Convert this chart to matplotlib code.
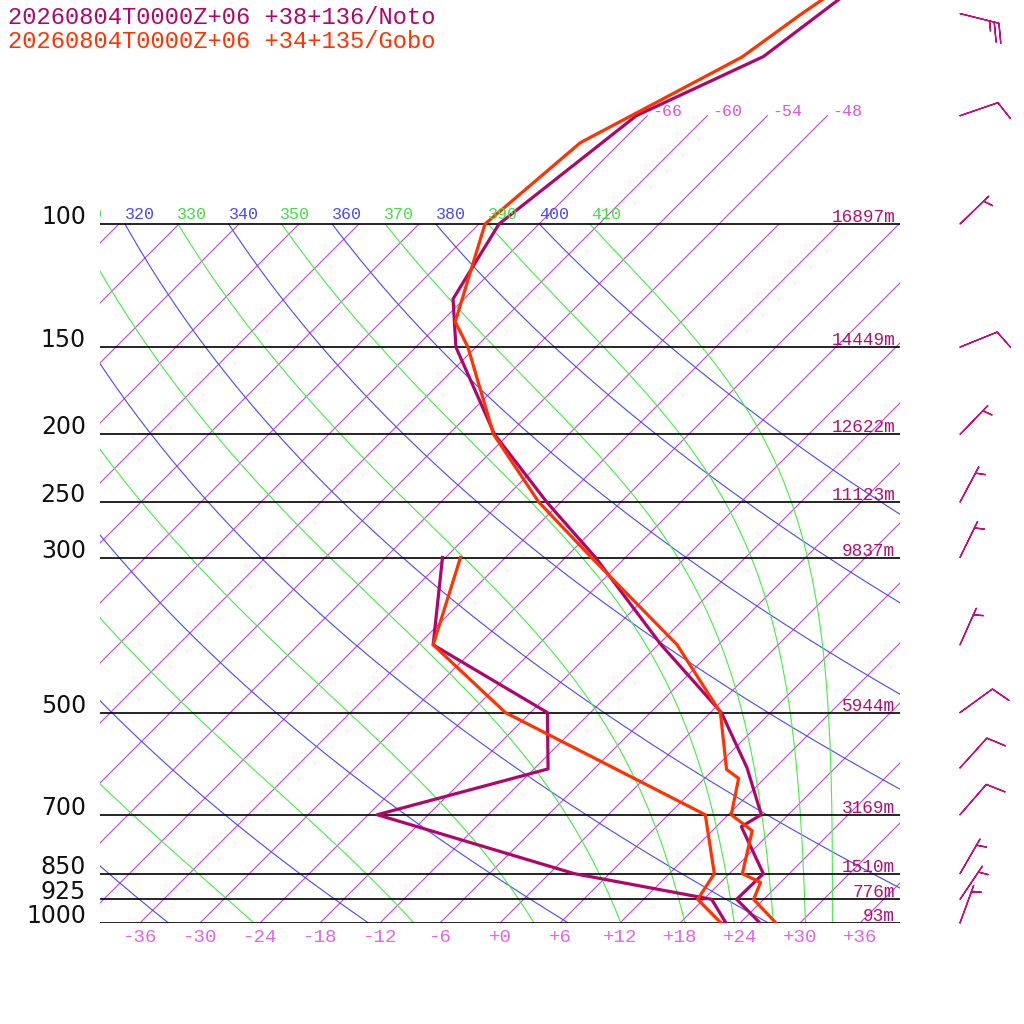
import numpy as np
import matplotlib.pyplot as plt

# perfil Noto (roxo) - temperatura
noto_p_t = [1000, 925, 850, 728, 700, 600, 500, 400, 300, 250, 200, 150, 128, 100, 70, 57.6, 45]
noto_t = [26.0, 21.3, 21.4, 14.5, 15.3, 9.2, 1.1, -11.7, -27.0, -37.4, -49.4, -62.0, -67.1, -70.0, -67.1, -60.3, -57.9]
# Noto - ponto de orvalho
noto_p_td = [1000, 925, 850, 700, 602, 500, 400, 300]
noto_td = [22.6, 18.8, 2.5, -23.1, -10.6, -16.3, -34.5, -42.3]

# perfil Gobo (laranja)
gobo_p_t = [1000, 925, 875, 850, 738, 700, 621, 603, 500, 400, 300, 250, 200, 150, 138, 100, 76.5, 57.7, 50.2, 45]
gobo_t = [27.6, 23.0, 22.0, 19.3, 16.0, 12.3, 9.4, 7.3, 1.0, -10.1, -27.4, -38.2, -49.5, -60.8, -64.6, -71.4, -70.0, -62.4, -60.8, -59.3]
gobo_p_td = [1000, 925, 850, 700, 500, 400, 300]
gobo_td = [22.1, 17.4, 16.5, 9.7, -20.5, -34.5, -40.5]

# vento Noto
wind_p = [1000, 925, 850, 700, 600, 500, 400, 300, 250, 200, 150, 100, 70, 50]
wind_dir = [20, 34, 30, 41, 42, 54, 24, 26, 28, 44, 68, 46, 71, 104]
wind_spd = [5, 5, 5, 10, 10, 10, 5, 5, 5, 5, 10, 5, 10, 25]

# niveis e alturas
levels = [1000, 925, 850, 700, 500, 300, 250, 200, 150, 100]
heights = ["93m", "776m", "1510m", "3169m", "5944m", "9837m", "11123m", "12622m", "14449m", "16897m"]

titles = ["20260804T0000Z+06 +38+136/Noto", "20260804T0000Z+06 +34+135/Gobo"]

NOTO = "#b0056a"
GOBO = "#ff3300"
SKEW = 69.9
MONO = "Liberation Mono"


def skew_x(t, p):
    return np.asarray(t) + SKEW * np.log10(1000.0 / np.asarray(p, dtype=float))


def theta_e(tc, p):
    tk = tc + 273.15
    es = np.minimum(6.112 * np.exp(17.67 * tc / (tc + 243.5)), 0.2 * p)
    r = 622.0 * es / (p - es)
    return tk * (1000.0 / p) ** (0.2854 * (1 - 0.00028 * r)) * np.exp((3.376 / tk - 0.00254) * r * (1 + 0.00081 * r))


def moist_t(the, p):
    lo = np.full_like(p, -160.0)
    hi = np.full_like(p, 50.0)
    for _ in range(60):
        mid = (lo + hi) / 2
        big = theta_e(mid, p) > the
        hi = np.where(big, mid, hi)
        lo = np.where(big, lo, mid)
    return (lo + hi) / 2


fig = plt.figure(figsize=(10.24, 10.24), dpi=100)
ax = fig.add_axes([100 / 1024, 1 - 923 / 1024, 800 / 1024, 923 / 1024])
ax.set_yscale("log")
ax.set_xlim(-40, 40)
ax.set_ylim(1000, 1000 * 10 ** (-923 / 699))
ax.axis("off")

pp = np.logspace(3, 2, 200)

# isotermas
for t0 in range(-126, 42, 6):
    ptop = 70 if -66 <= t0 <= -48 else 100
    ax.plot(skew_x([t0, t0], [1000, ptop]), [1000, ptop], color="#c844e0", lw=0.8)
    if ptop == 70:
        ax.annotate(str(t0), xy=(skew_x(t0, 70), 70), xytext=(5, 0),
                    textcoords="offset pixels", fontsize=12, family=MONO,
                    color="#dd55dd", ha="left", va="baseline")

# adiabaticas secas (azul)
for th in range(240, 401, 20):
    tt = th * (pp / 1000.0) ** 0.2857 - 273.15
    ax.plot(skew_x(tt, pp), pp, color="#4848ff", lw=0.8)

# adiabaticas umidas (verde)
for the in range(250, 411, 20):
    tt = moist_t(the, pp)
    ax.plot(skew_x(tt, pp), pp, color="#44ee44", lw=0.8)

# rotulos theta (cortados na borda do grafico)
for th in range(310, 411, 10):
    xt = th * 0.1 ** 0.2857 - 273.15 + SKEW
    ax.annotate(str(th), xy=(xt, 100), xytext=(0, 5), textcoords="offset pixels",
                fontsize=12, family=MONO, ha="left", va="baseline",
                color="#4848ff" if th % 20 == 0 else "#44dd44",
                annotation_clip=False, clip_on=True)

# linhas de pressao
ax.hlines(levels, -40, 40, color="black", lw=1.2)
for p, h in zip(levels, heights):
    ax.annotate(str(p), xy=(-40, p), xytext=(-14, 0), textcoords="offset pixels",
                fontsize=17, family="DejaVu Sans", ha="right", va="baseline",
                color="#111111", annotation_clip=False)
    ax.annotate(h, xy=(40, p), xytext=(-5, 2), textcoords="offset pixels",
                fontsize=12.8, family=MONO, color="#b0106e", ha="right", va="baseline")

# rotulos de temperatura
for t in range(-36, 37, 6):
    ax.annotate(f"{t:+d}", xy=(t, 1000), xytext=(0, -6), textcoords="offset pixels",
                fontsize=13.8, family=MONO, color="#e066e6", ha="center", va="top",
                annotation_clip=False)

# perfis
ax.plot(skew_x(noto_t, noto_p_t), noto_p_t, color=NOTO, lw=2.3)
ax.plot(skew_x(noto_td, noto_p_td), noto_p_td, color=NOTO, lw=2.3)
ax.plot(skew_x(gobo_t, gobo_p_t), gobo_p_t, color=GOBO, lw=2.3)
ax.plot(skew_x(gobo_td, gobo_p_td), gobo_p_td, color=GOBO, lw=2.3)

# barbelas
d = np.radians(wind_dir)
s = np.array(wind_spd, dtype=float)
u = -s * np.sin(d)
v = -s * np.cos(d)
bx = np.full(len(wind_p), 46.0)
b = ax.barbs(bx, wind_p, u, v, length=7.6, color="#c0107a", linewidth=1.0,
             sizes=dict(spacing=0.12, height=0.47, width=0.33))
b.set_clip_on(False)

fig.text(8 / 1024, 1 - 23.5 / 1024, titles[0], fontsize=17.1, family=MONO, color=NOTO, va="baseline")
fig.text(8 / 1024, 1 - 48.5 / 1024, titles[1], fontsize=17.1, family=MONO, color=GOBO, va="baseline")

fig.savefig("out.png", dpi=100)
